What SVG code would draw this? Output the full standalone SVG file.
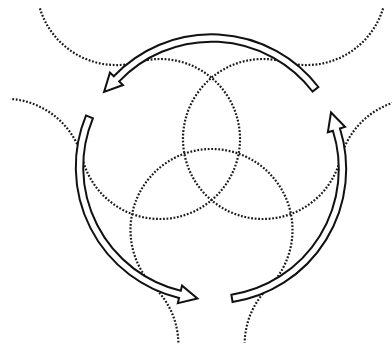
<svg xmlns="http://www.w3.org/2000/svg" width="392" height="359" viewBox="0 0 392 359">
<style>
.dot{fill:none;stroke:#1a1a1a;stroke-width:2.2;stroke-dasharray:1.8 1.7}
.arrow{fill:#fff;stroke:#111;stroke-width:2;stroke-linejoin:miter}
</style>
<rect width="392" height="359" fill="#fff"/>
<g id="circles">
<path id="loop-left" class="dot" d="M39.92,8.44 A80,80 0 0 0 138.21,62.02 A80,80 0 1 1 82.51,158.86 A80,80 0 0 0 10.61,98.90"/>
<path id="loop-right" class="dot" d="M383.08,8.44 A80,80 0 0 1 284.79,62.02 A80,80 0 1 0 340.49,158.86 A80,80 0 0 1 412.39,98.90"/>
<path id="loop-bottom" class="dot" d="M178.38,342.49 A80,80 0 0 0 154.61,287.65 A81,81 0 1 1 268.39,287.65 A80,80 0 0 0 244.62,342.49"/>
</g>
<g id="connectors">
<path id="arrow-top" class="arrow" d="M318.37,86.99 A134.7,134.7 0 0 0 113.79,76.27 L109.94,72.62 L104.08,91.88 L123.00,85.02 L119.16,81.37 A127.3,127.3 0 0 1 312.50,91.50 Z"/>
<path id="arrow-left" class="arrow" transform="translate(-1,-2)" d="M87.05,117.45 A134.7,134.7 0 0 0 180.06,299.98 L178.82,305.14 L198.42,300.58 L183.03,287.63 L181.79,292.79 A127.3,127.3 0 0 1 93.89,120.28 Z"/>
<path id="arrow-right" class="arrow" d="M232.57,302.04 A134.7,134.7 0 0 0 339.96,128.50 L345.02,126.90 L331.02,112.44 L327.85,132.31 L332.91,130.72 A127.3,127.3 0 0 1 231.41,294.73 Z"/>
</g>
</svg>
